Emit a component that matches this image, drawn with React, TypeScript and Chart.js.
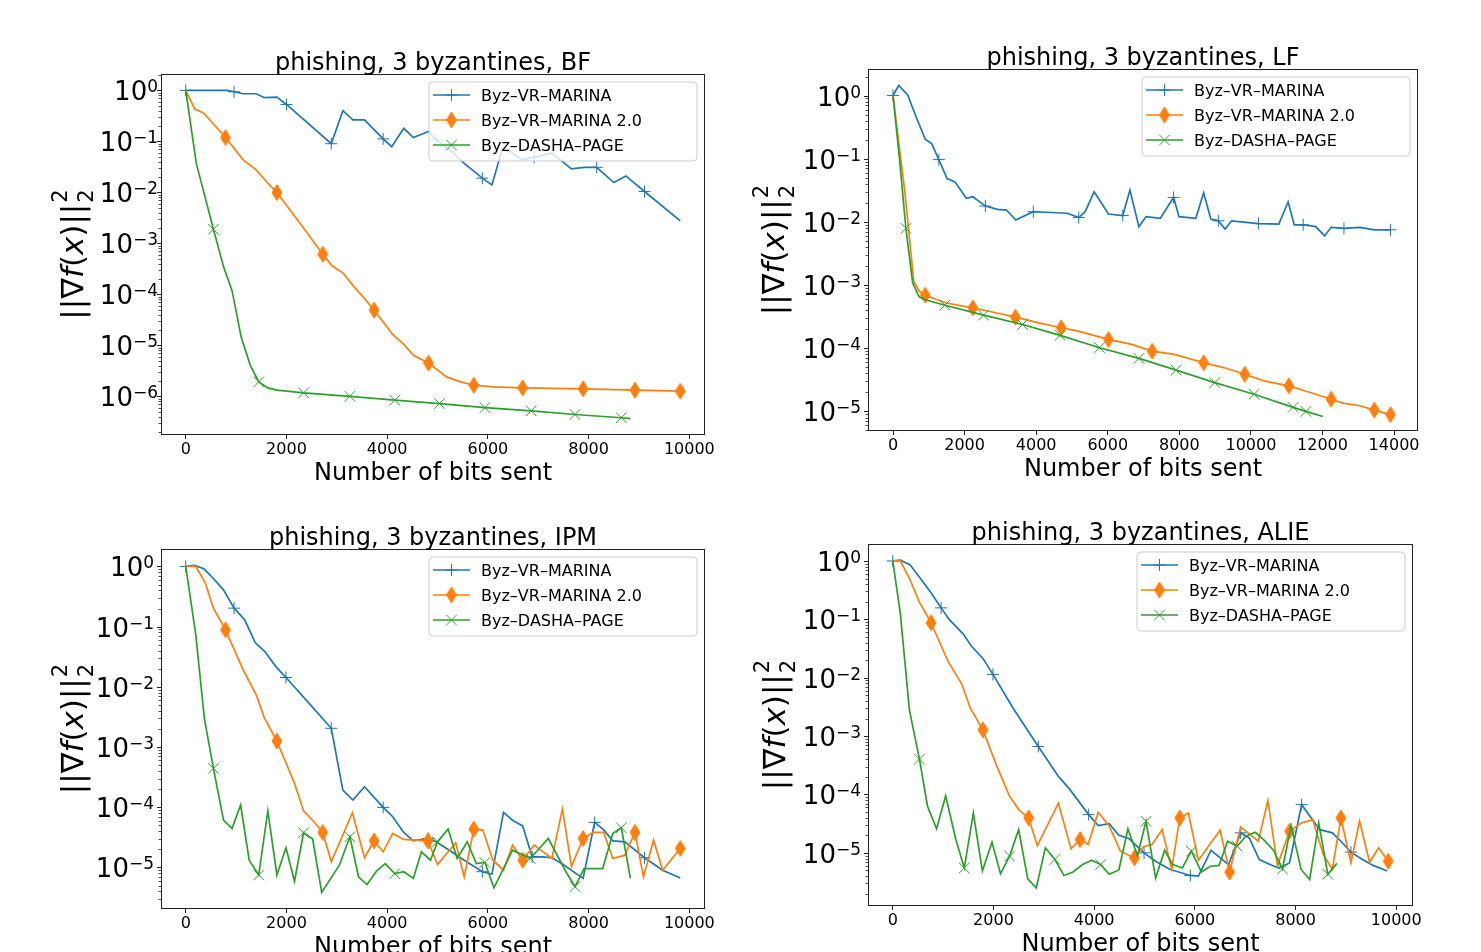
import React, { useEffect, useRef } from "react";
import { Chart, registerables } from "chart.js";

Chart.register(...registerables);

const FONT = "'DejaVu Sans', sans-serif";
const BLUE = "#1f77b4";
const ORANGE = "#ff7f0e";
const GREEN = "#2ca02c";

const LEGEND_LABELS = ["Byz–VR–MARINA", "Byz–VR–MARINA 2.0", "Byz–DASHA–PAGE"];
const X_TITLE = "Number of bits sent";
const X_TICKS_10K = [0, 2000, 4000, 6000, 8000, 10000];
const X_TICKS_14K = [0, 2000, 4000, 6000, 8000, 10000, 12000, 14000];
const Y_EXP_BF = [0, -1, -2, -3, -4, -5, -6];
const Y_EXP_5 = [0, -1, -2, -3, -4, -5];

// ---------- BF ----------
const bfMarinaX = [0, 820, 960, 1140, 1400, 1560, 1810, 2000, 2890, 3120, 3320, 3550, 3920, 4090, 4330, 4520, 4820, 4970, 5250, 5530, 5890, 6080, 6280, 6450, 6670, 6920, 7270, 7660, 7910, 8160, 8500, 8740, 9110, 9820];
const bfMarinaY = [1.0, 1.0, 0.94, 0.86, 0.86, 0.72, 0.74, 0.53, 0.09, 0.4, 0.265, 0.265, 0.112, 0.079, 0.18, 0.119, 0.157, 0.107, 0.068, 0.037, 0.019, 0.014, 0.068, 0.063, 0.0435, 0.049, 0.059, 0.029, 0.031, 0.031, 0.0156, 0.021, 0.0104, 0.00275];
const bfMarinaMarks = [0, 960, 2000, 2890, 3920, 4970, 5890, 6920, 8160, 9110];

const bfMarina2X = [0, 180, 355, 790, 1140, 1400, 1630, 1810, 2270, 2720, 2910, 3120, 3330, 3550, 3740, 3940, 4110, 4330, 4520, 4820, 5180, 5460, 5720, 6100, 6690, 7890, 8920, 9820];
const bfMarina2Y = [1.0, 0.43, 0.36, 0.119, 0.0435, 0.0276, 0.0151, 0.0099, 0.00248, 0.00061, 0.00036, 0.000265, 0.000145, 8.3e-5, 4.9e-5, 2.7e-5, 1.63e-5, 1.05e-5, 6.4e-6, 4.5e-6, 2.4e-6, 1.92e-6, 1.65e-6, 1.53e-6, 1.46e-6, 1.4e-6, 1.32e-6, 1.26e-6];
const bfMarina2Marks = [790, 1810, 2720, 3740, 4820, 5720, 6690, 7890, 8920, 9820];

const bfDashaX = [0, 210, 550, 750, 920, 1100, 1280, 1450, 1630, 1810, 2340, 3260, 4150, 5040, 5940, 6860, 7730, 8650, 8830];
const bfDashaY = [1.0, 0.037, 0.00189, 0.00035, 0.000118, 1.47e-5, 4.1e-6, 1.92e-6, 1.46e-6, 1.32e-6, 1.17e-6, 1.0e-6, 8.4e-7, 7.2e-7, 6.0e-7, 5.2e-7, 4.4e-7, 3.8e-7, 3.66e-7];
const bfDashaMarks = [550, 1450, 2340, 3260, 4150, 5040, 5940, 6860, 7730, 8650];

// ---------- LF ----------
const lfMarinaX = [0, 160, 410, 630, 900, 1080, 1280, 1510, 1730, 2050, 2230, 2580, 2920, 3170, 3430, 3920, 4270, 4870, 5190, 5370, 5620, 6020, 6420, 6620, 6870, 7070, 7470, 7840, 7990, 8460, 8680, 8880, 9090, 9280, 9460, 10210, 10780, 11040, 11210, 11460, 11810, 12060, 12240, 12600, 13050, 13450, 13900];
const lfMarinaY = [1.0, 1.44, 1.02, 0.484, 0.203, 0.173, 0.0968, 0.0486, 0.043, 0.0236, 0.025, 0.0178, 0.0158, 0.0154, 0.0107, 0.0145, 0.0142, 0.0137, 0.0117, 0.0145, 0.03, 0.0133, 0.0126, 0.0318, 0.0084, 0.0121, 0.0114, 0.0244, 0.0121, 0.0114, 0.0289, 0.0111, 0.0104, 0.0077, 0.0104, 0.0094, 0.0092, 0.0208, 0.009, 0.009, 0.0084, 0.006, 0.0082, 0.0079, 0.0082, 0.0075, 0.0075];
const lfMarinaMarks = [0, 1280, 2580, 3920, 5190, 6420, 7840, 9090, 10210, 11460, 12600, 13900];

const lfMarina2X = [0, 330, 580, 730, 900, 1480, 2230, 2680, 3420, 4070, 4700, 5170, 6020, 6670, 7240, 7860, 8680, 9260, 9830, 10360, 11060, 11660, 12240, 12600, 13050, 13450, 13900];
const lfMarina2Y = [1.0, 0.03, 0.00115, 0.0008, 0.00069, 0.00052, 0.000436, 0.000385, 0.00031, 0.000252, 0.000211, 0.000187, 0.000138, 0.000115, 9.0e-5, 8.0e-5, 5.9e-5, 4.9e-5, 3.87e-5, 3.04e-5, 2.54e-5, 1.99e-5, 1.56e-5, 1.34e-5, 1.23e-5, 1.05e-5, 8.9e-6];
const lfMarina2Marks = [900, 2230, 3420, 4700, 6020, 7240, 8680, 9830, 11060, 12240, 13450, 13900];

const lfDashaX = [0, 180, 360, 550, 730, 880, 1450, 2530, 3620, 4670, 5770, 6870, 7910, 8990, 10090, 11180, 11540, 12010];
const lfDashaY = [1.0, 0.1, 0.0079, 0.00108, 0.00065, 0.00059, 0.00048, 0.000334, 0.000238, 0.00016, 0.000102, 6.9e-5, 4.5e-5, 2.86e-5, 1.87e-5, 1.16e-5, 1.0e-5, 8.3e-6];
const lfDashaMarks = [360, 1450, 2530, 3620, 4670, 5770, 6870, 7910, 8990, 10090, 11180, 11540];

// ---------- IPM ----------
const ipmMarinaX = [0, 180, 360, 530, 750, 960, 1170, 1380, 1570, 1790, 1990, 2450, 2890, 3120, 3320, 3550, 3920, 4110, 4330, 4520, 4820, 4970, 5180, 5530, 5890, 6080, 6310, 6490, 6690, 6880, 7090, 7270, 7480, 7890, 8120, 8300, 8480, 8720, 9110, 9470, 9820];
const ipmMarinaY = [1.0, 1.04, 0.914, 0.656, 0.409, 0.203, 0.13, 0.0545, 0.0385, 0.0217, 0.0143, 0.00533, 0.00205, 0.000193, 0.000132, 0.000219, 9.95e-5, 6.97e-5, 3.82e-5, 2.77e-5, 3.03e-5, 2.67e-5, 2.07e-5, 1.32e-5, 8.5e-6, 7.7e-6, 8.2e-5, 6.1e-5, 4.9e-5, 1.5e-5, 1.5e-5, 1.45e-5, 1.14e-5, 6.6e-6, 5.6e-5, 4.2e-5, 2.77e-5, 2.67e-5, 1.45e-5, 9.0e-6, 6.7e-6];
const ipmMarinaMarks = [0, 960, 1990, 2890, 3920, 4820, 5890, 6880, 8120, 9110];

const ipmMarina2X = [0, 200, 390, 550, 790, 1140, 1400, 1560, 1810, 2160, 2340, 2550, 2720, 2890, 3310, 3550, 3740, 3920, 4110, 4330, 4810, 5000, 5360, 5530, 5720, 5900, 6100, 6310, 6490, 6690, 6920, 7270, 7480, 7660, 7890, 8090, 8300, 8480, 8720, 8920, 9090, 9290, 9470, 9820];
const ipmMarina2Y = [1.0, 1.0, 0.528, 0.203, 0.0885, 0.0191, 0.00735, 0.00308, 0.00126, 0.000249, 8.7e-5, 5.7e-5, 3.82e-5, 1.24e-5, 8.1e-5, 1.45e-5, 2.77e-5, 1.82e-5, 3.67e-5, 2.92e-5, 2.77e-5, 1.12e-5, 2.57e-5, 7.0e-6, 4.34e-5, 4.18e-5, 1.32e-5, 9.0e-6, 2.35e-5, 1.32e-5, 2.35e-5, 1.41e-5, 9.3e-5, 1.03e-5, 3.03e-5, 3.82e-5, 3.82e-5, 1.41e-5, 1.6e-5, 3.82e-5, 7.0e-6, 2.84e-5, 9.0e-6, 2.07e-5];
const ipmMarina2Marks = [790, 1810, 2720, 3740, 4810, 5720, 6690, 7890, 8920, 9820];

const ipmDashaX = [0, 200, 370, 550, 750, 920, 1090, 1260, 1450, 1630, 1810, 1990, 2160, 2340, 2520, 2700, 3050, 3260, 3430, 3600, 3790, 3960, 4150, 4330, 4520, 4680, 4860, 5000, 5210, 5390, 5590, 5770, 5940, 6120, 6490, 6840, 7200, 7550, 7730, 7910, 8280, 8480, 8650, 8830];
const ipmDashaY = [1.0, 0.0731, 0.003, 0.000443, 6.1e-5, 4.45e-5, 0.000109, 1.32e-5, 7.5e-6, 8.7e-5, 7.5e-6, 2.12e-5, 5.9e-6, 3.77e-5, 2.96e-5, 3.84e-6, 1.09e-5, 3.24e-5, 7.0e-6, 5.2e-6, 8.7e-6, 1.16e-5, 7.9e-6, 8.5e-6, 6.6e-6, 1.82e-5, 1.32e-5, 2.67e-5, 4.34e-5, 1.41e-5, 2.67e-5, 1.16e-5, 1.21e-5, 4.6e-6, 1.94e-5, 1.41e-5, 3.03e-5, 8.5e-6, 4.8e-6, 9.6e-6, 9.6e-6, 3.67e-5, 4.56e-5, 6.6e-6];
const ipmDashaMarks = [550, 1450, 2340, 3260, 4150, 5000, 5940, 6840, 7730, 8650];

// ---------- ALIE ----------
const alieMarinaX = [0, 150, 340, 550, 760, 960, 1120, 1400, 1560, 1790, 1990, 2390, 2890, 3290, 3520, 3890, 4080, 4300, 4490, 4690, 4990, 5220, 5510, 5910, 6070, 6320, 6670, 6910, 7080, 7280, 7490, 7670, 7880, 8120, 8480, 8730, 8900, 9100, 9330, 9540, 9820];
const alieMarinaY = [1.0, 1.03, 0.865, 0.499, 0.284, 0.157, 0.0995, 0.0558, 0.0348, 0.0214, 0.0114, 0.003, 0.000664, 0.000204, 0.000121, 4.52e-5, 2.93e-5, 3.17e-5, 2.0e-5, 1.76e-5, 1.0e-5, 7.2e-6, 5.2e-6, 4.1e-6, 4.0e-6, 1.11e-5, 6.3e-6, 2.2e-5, 1.8e-5, 7.7e-6, 6.3e-6, 5.5e-6, 6.7e-6, 6.7e-5, 2.5e-5, 2.2e-5, 1.58e-5, 1.03e-5, 7.7e-6, 6.1e-6, 4.9e-6];
const alieMarinaMarks = [0, 960, 1990, 2890, 3890, 4990, 5910, 6910, 8120, 9100];

const alieMarina2X = [0, 150, 340, 520, 760, 1100, 1370, 1540, 1790, 2060, 2320, 2510, 2700, 2870, 3290, 3540, 3720, 3880, 4080, 4300, 4520, 4800, 4980, 5150, 5350, 5540, 5700, 5870, 6070, 6500, 6690, 6910, 7260, 7450, 7640, 7880, 8120, 8340, 8550, 8730, 8900, 9100, 9270, 9470, 9650, 9840];
const alieMarina2Y = [1.0, 1.0, 0.48, 0.205, 0.0873, 0.0188, 0.0078, 0.003, 0.00128, 0.000315, 9.3e-5, 5.4e-5, 3.96e-5, 1.33e-5, 7.1e-5, 1.17e-5, 1.69e-5, 1.39e-5, 4.95e-5, 2.86e-5, 1.07e-5, 8.2e-6, 1.27e-5, 1.39e-5, 2.5e-5, 5.2e-6, 3.96e-5, 4.8e-5, 7.5e-6, 2.44e-5, 4.7e-6, 2.78e-5, 1.58e-5, 7.9e-5, 6.1e-6, 2.34e-5, 3.26e-5, 3.7e-5, 9.4e-6, 5.2e-6, 3.96e-5, 6.7e-6, 3.48e-5, 6.9e-6, 1.22e-5, 7.2e-6];
const alieMarina2Marks = [760, 1790, 2700, 3720, 4800, 5700, 6690, 7880, 8900, 9840];

const alieDashaX = [0, 150, 330, 530, 690, 870, 1050, 1250, 1420, 1600, 1780, 1970, 2140, 2320, 2500, 2680, 2850, 3030, 3220, 3400, 3580, 3770, 3950, 4130, 4300, 4490, 4670, 4860, 5030, 5220, 5400, 5560, 5750, 5930, 6130, 6310, 6480, 6650, 6840, 7010, 7200, 7380, 7560, 7740, 7910, 8110, 8280, 8460, 8640, 8820];
const alieDashaY = [1.0, 0.126, 0.00281, 0.000404, 6.3e-5, 2.57e-5, 9.5e-5, 1.73e-5, 5.5e-6, 4.8e-5, 4.9e-6, 1.52e-5, 4.4e-6, 8.8e-6, 2.5e-5, 3.6e-6, 2.5e-6, 1.22e-5, 7.7e-6, 4.1e-6, 4.7e-6, 6.3e-6, 7.5e-6, 6.3e-6, 4.3e-6, 5.1e-6, 2.57e-5, 9.0e-6, 3.48e-5, 3.7e-6, 1.11e-5, 6.3e-6, 5.5e-6, 1.07e-5, 4.7e-6, 5.9e-6, 6.1e-6, 1.58e-5, 1.3e-5, 1.93e-5, 2.25e-5, 1.64e-5, 1.11e-5, 5.3e-6, 2.93e-5, 5.2e-6, 3.5e-6, 3.26e-5, 4.3e-6, 6.6e-6];
const alieDashaMarks = [530, 1420, 2320, 3220, 4130, 5030, 5930, 6840, 7740, 8640];

type Series = { x: number[]; y: number[]; marks: number[] };
type PanelDef = {
  title: string;
  series: Series[];
  xTicks: number[];
  yExps: number[];
  canvas: { left: number; top: number; width: number; height: number };
  area: { left: number; top: number; right: number; bottom: number };
  xMin: number;
  xMax: number;
  yMin: number;
  yMax: number;
  yLabelOffset: number;
  yTickGap: number;
};

const X_AXIS_H = 30;

const PANELS: PanelDef[] = [
  {
    title: "phishing, 3 byzantines, BF",
    series: [
      { x: bfMarinaX, y: bfMarinaY, marks: bfMarinaMarks },
      { x: bfMarina2X, y: bfMarina2Y, marks: bfMarina2Marks },
      { x: bfDashaX, y: bfDashaY, marks: bfDashaMarks },
    ],
    xTicks: X_TICKS_10K,
    yExps: Y_EXP_BF,
    canvas: { left: 0, top: 20, width: 740, height: 475 },
    area: { left: 161, top: 74, right: 705, bottom: 435 },
    xMin: -491, xMax: 10311, yMin: 1.742e-7, yMax: 2.099,
    yLabelOffset: 78, yTickGap: 3,
  },
  {
    title: "phishing, 3 byzantines, LF",
    series: [
      { x: lfMarinaX, y: lfMarinaY, marks: lfMarinaMarks },
      { x: lfMarina2X, y: lfMarina2Y, marks: lfMarina2Marks },
      { x: lfDashaX, y: lfDashaY, marks: lfDashaMarks },
    ],
    xTicks: X_TICKS_14K,
    yExps: Y_EXP_5,
    canvas: { left: 740, top: 20, width: 741, height: 475 },
    area: { left: 868, top: 69, right: 1418, bottom: 431 },
    xMin: -699, xMax: 14669, yMin: 4.898e-6, yMax: 2.63,
    yLabelOffset: 84, yTickGap: 7,
  },
  {
    title: "phishing, 3 byzantines, IPM",
    series: [
      { x: ipmMarinaX, y: ipmMarinaY, marks: ipmMarinaMarks },
      { x: ipmMarina2X, y: ipmMarina2Y, marks: ipmMarina2Marks },
      { x: ipmDashaX, y: ipmDashaY, marks: ipmDashaMarks },
    ],
    xTicks: X_TICKS_10K,
    yExps: Y_EXP_5,
    canvas: { left: 0, top: 495, width: 740, height: 457 },
    area: { left: 161, top: 549, right: 705, bottom: 909 },
    xMin: -491, xMax: 10311, yMin: 2.042e-6, yMax: 1.95,
    yLabelOffset: 78, yTickGap: 7,
  },
  {
    title: "phishing, 3 byzantines, ALIE",
    series: [
      { x: alieMarinaX, y: alieMarinaY, marks: alieMarinaMarks },
      { x: alieMarina2X, y: alieMarina2Y, marks: alieMarina2Marks },
      { x: alieDashaX, y: alieDashaY, marks: alieDashaMarks },
    ],
    xTicks: X_TICKS_10K,
    yExps: Y_EXP_5,
    canvas: { left: 740, top: 495, width: 741, height: 457 },
    area: { left: 868, top: 544, right: 1413, bottom: 906 },
    xMin: -492, xMax: 10332, yMin: 1.23e-6, yMax: 1.95,
    yLabelOffset: 83, yTickGap: 7,
  },
];

function makeDiamond(): HTMLCanvasElement {
  const c = document.createElement("canvas");
  c.width = 12;
  c.height = 18;
  const g = c.getContext("2d")!;
  g.beginPath();
  g.moveTo(6, 1);
  g.lineTo(11, 9);
  g.lineTo(6, 17);
  g.lineTo(1, 9);
  g.closePath();
  g.fillStyle = ORANGE;
  g.fill();
  g.strokeStyle = ORANGE;
  g.lineWidth = 1;
  g.stroke();
  return c;
}

function drawMarker(ctx: CanvasRenderingContext2D, i: number, x: number, y: number, diamond: HTMLCanvasElement) {
  ctx.save();
  if (i === 0) {
    ctx.strokeStyle = BLUE;
    ctx.lineWidth = 1;
    ctx.beginPath();
    ctx.moveTo(x - 6, y);
    ctx.lineTo(x + 6, y);
    ctx.moveTo(x, y - 6);
    ctx.lineTo(x, y + 6);
    ctx.stroke();
  } else if (i === 1) {
    ctx.drawImage(diamond, x - diamond.width / 2, y - diamond.height / 2);
  } else {
    const d = 5.3;
    ctx.strokeStyle = GREEN;
    ctx.lineWidth = 1;
    ctx.beginPath();
    ctx.moveTo(x - d, y - d);
    ctx.lineTo(x + d, y + d);
    ctx.moveTo(x - d, y + d);
    ctx.lineTo(x + d, y - d);
    ctx.stroke();
  }
  ctx.restore();
}

function drawYLabel(ctx: CanvasRenderingContext2D, bx: number, cy: number) {
  const main = 31;
  const small = 21;
  const pieces = [
    { t: "||∇", f: `${main}px ${FONT}` },
    { t: "f", f: `italic ${main}px ${FONT}` },
    { t: "(", f: `${main}px ${FONT}` },
    { t: "x", f: `italic ${main}px ${FONT}` },
    { t: ")||", f: `${main}px ${FONT}` },
  ];
  ctx.save();
  let total = 0;
  const widths: number[] = [];
  for (const p of pieces) {
    ctx.font = p.f;
    const w = ctx.measureText(p.t).width;
    widths.push(w);
    total += w;
  }
  ctx.font = `${small}px ${FONT}`;
  const supW = ctx.measureText("2").width;
  total += supW + 1;
  ctx.translate(bx, cy);
  ctx.rotate(-Math.PI / 2);
  ctx.fillStyle = "#000";
  ctx.textAlign = "left";
  ctx.textBaseline = "alphabetic";
  let x = -total / 2;
  pieces.forEach((p, i) => {
    ctx.font = p.f;
    ctx.fillText(p.t, x, 0);
    x += widths[i];
  });
  ctx.font = `${small}px ${FONT}`;
  ctx.fillText("2", x + 1, -16);
  ctx.fillText("2", x + 1, 10);
  ctx.restore();
}

function makeFigurePlugin(panel: PanelDef, diamond: HTMLCanvasElement) {
  return {
    id: "figure",
    afterDraw(chart: any) {
      const ctx: CanvasRenderingContext2D = chart.ctx;
      const a = chart.chartArea;
      const ys = chart.scales.y;
      ctx.save();

      // frame
      ctx.strokeStyle = "#222";
      ctx.lineWidth = 1;
      ctx.strokeRect(a.left + 0.5, a.top + 0.5, a.right - a.left - 1, a.bottom - a.top - 1);

      // minor ticks
      ctx.lineWidth = 0.8;
      const lo = Math.floor(Math.log10(panel.yMin));
      const hi = Math.ceil(Math.log10(panel.yMax));
      ctx.beginPath();
      for (let k = lo; k <= hi; k++) {
        for (let m = 2; m <= 9; m++) {
          const v = m * Math.pow(10, k);
          if (v < panel.yMin || v > panel.yMax) continue;
          const py = Math.round(ys.getPixelForValue(v)) + 0.5;
          ctx.moveTo(a.left, py);
          ctx.lineTo(a.left - 2.5, py);
        }
      }
      ctx.stroke();

      // major ticks and labels
      ctx.beginPath();
      ctx.lineWidth = 1;
      for (const e of panel.yExps) {
        const py = Math.round(ys.getPixelForValue(Math.pow(10, e))) + 0.5;
        ctx.moveTo(a.left, py);
        ctx.lineTo(a.left - 4, py);
      }
      ctx.stroke();
      ctx.fillStyle = "#000";
      ctx.textBaseline = "alphabetic";
      ctx.textAlign = "left";
      for (const e of panel.yExps) {
        const py = ys.getPixelForValue(Math.pow(10, e));
        const sup = e === 0 ? "0" : "−" + String(-e);
        ctx.font = `26px ${FONT}`;
        const w1 = ctx.measureText("10").width;
        ctx.font = `17px ${FONT}`;
        const w2 = ctx.measureText(sup).width;
        const x0 = a.left - panel.yTickGap - w1 - w2;
        ctx.font = `26px ${FONT}`;
        ctx.fillText("10", x0, py + 10);
        ctx.font = `17px ${FONT}`;
        ctx.fillText(sup, x0 + w1, py + 2);
      }

      // y label
      drawYLabel(ctx, a.left - panel.yLabelOffset, (a.top + a.bottom) / 2);

      // title
      ctx.font = `24px ${FONT}`;
      ctx.textAlign = "center";
      ctx.fillText(panel.title, (a.left + a.right) / 2, a.top - 4.5);

      // x title
      ctx.fillText(X_TITLE, (a.left + a.right) / 2, a.bottom + 45);

      // legend
      const lw = 268;
      const lh = 79;
      const lx = a.right - 8 - lw;
      const ly = a.top + 8;
      ctx.beginPath();
      const r = 4;
      ctx.moveTo(lx + r, ly);
      ctx.arcTo(lx + lw, ly, lx + lw, ly + lh, r);
      ctx.arcTo(lx + lw, ly + lh, lx, ly + lh, r);
      ctx.arcTo(lx, ly + lh, lx, ly, r);
      ctx.arcTo(lx, ly, lx + lw, ly, r);
      ctx.closePath();
      ctx.fillStyle = "rgba(255,255,255,0.8)";
      ctx.fill();
      ctx.strokeStyle = "#cccccc";
      ctx.lineWidth = 1;
      ctx.stroke();
      const colors = [BLUE, ORANGE, GREEN];
      for (let i = 0; i < 3; i++) {
        const cy = ly + 13 + 25 * i;
        ctx.strokeStyle = colors[i];
        ctx.lineWidth = 1.7;
        ctx.beginPath();
        ctx.moveTo(lx + 4, cy);
        ctx.lineTo(lx + 41, cy);
        ctx.stroke();
        drawMarker(ctx, i, lx + 22.5, cy, diamond);
        ctx.fillStyle = "#000";
        ctx.font = `16px ${FONT}`;
        ctx.textAlign = "left";
        ctx.fillText(LEGEND_LABELS[i], lx + 52, cy + 6);
      }
      ctx.restore();
    },
  };
}

function Panel({ panel }: { panel: PanelDef }) {
  const ref = useRef<HTMLCanvasElement>(null);
  useEffect(() => {
    const c = ref.current!;
    const cv = panel.canvas;
    const area = panel.area;
    const pad = {
      left: area.left - cv.left,
      top: area.top - cv.top,
      right: cv.left + cv.width - area.right,
      bottom: cv.top + cv.height - area.bottom - X_AXIS_H,
    };
    const diamond = makeDiamond();
    const styles: any[] = [
      { color: BLUE, pointStyle: "cross", radius: 6 },
      { color: ORANGE, pointStyle: diamond, radius: 5 },
      { color: GREEN, pointStyle: "crossRot", radius: 7.5 },
    ];
    const datasets = panel.series.map((s, i) => ({
      label: LEGEND_LABELS[i],
      data: s.x.map((x, j) => ({ x, y: s.y[j] })),
      borderColor: styles[i].color,
      backgroundColor: styles[i].color,
      borderWidth: 1.7,
      pointStyle: styles[i].pointStyle,
      pointRadius: (ctx: any) => (s.marks.includes(s.x[ctx.dataIndex]) ? styles[i].radius : 0),
      pointHoverRadius: 0,
      pointBorderWidth: 1,
      pointBorderColor: styles[i].color,
      pointBackgroundColor: styles[i].color,
      tension: 0,
      order: 2 - i,
    }));
    const chart = new Chart(c, {
      type: "line",
      data: { datasets },
      options: {
        animation: false,
        responsive: false,
        devicePixelRatio: 1,
        events: [],
        layout: { padding: pad },
        plugins: {
          legend: { display: false },
          title: { display: false },
          tooltip: { enabled: false },
        },
        scales: {
          x: {
            type: "linear",
            min: panel.xMin,
            max: panel.xMax,
            afterBuildTicks: (sc: any) => {
              sc.ticks = panel.xTicks.map((v) => ({ value: v }));
            },
            afterFit: (sc: any) => {
              sc.height = X_AXIS_H;
            },
            grid: {
              drawOnChartArea: false,
              drawTicks: true,
              tickLength: 4,
              color: "#222",
              lineWidth: 1,
            },
            border: { display: false },
            ticks: {
              font: { family: FONT, size: 16 },
              color: "#000",
              padding: 1,
              maxRotation: 0,
              autoSkip: false,
              callback: (v: any) => String(v),
            },
          },
          y: {
            type: "logarithmic",
            min: panel.yMin,
            max: panel.yMax,
            display: false,
          },
        },
      } as any,
      plugins: [makeFigurePlugin(panel, diamond)],
    });
    return () => chart.destroy();
  }, [panel]);
  return (
    <canvas
      ref={ref}
      width={panel.canvas.width}
      height={panel.canvas.height}
      style={{
        position: "absolute",
        left: panel.canvas.left,
        top: panel.canvas.top,
        width: panel.canvas.width,
        height: panel.canvas.height,
      }}
    />
  );
}

export default function App() {
  return (
    <div style={{ position: "absolute", left: 0, top: 0, width: 1481, height: 952, background: "#fff", overflow: "hidden" }}>
      {PANELS.map((p) => (
        <Panel key={p.title} panel={p} />
      ))}
    </div>
  );
}
